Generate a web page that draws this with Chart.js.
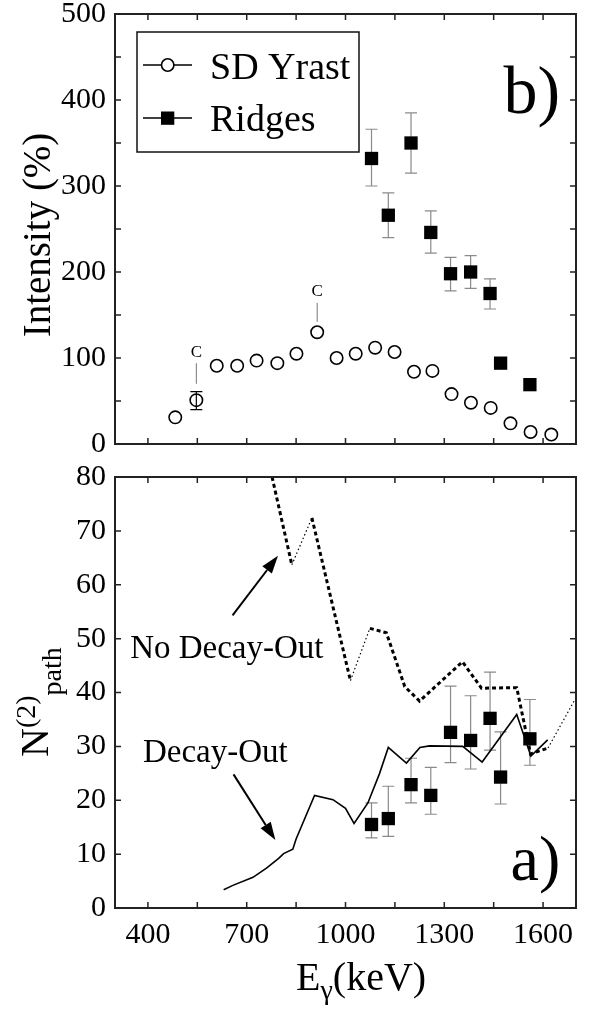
<!DOCTYPE html>
<html>
<head>
<meta charset="utf-8">
<script src="https://cdn.jsdelivr.net/npm/chart.js@4.4.1/dist/chart.umd.min.js"></script>
<style>
    html, body { margin: 0; padding: 0; background: #fff; }
    #wrap { position: relative; width: 590px; height: 1009px; }
    canvas { position: absolute; left: 0; }
    #cTop { top: 0; }
    #cBot { top: 465px; }
</style>
</head>
<body>
<div id="wrap">
    <canvas id="cTop" width="590" height="465"></canvas>
    <canvas id="cBot" width="590" height="544"></canvas>
</div>
<script>
// --- dados ---
// painel b) intensidades
const yrastE = [483, 547, 609, 671, 730, 793, 851, 914, 973, 1031, 1090, 1149, 1208, 1264, 1322, 1381, 1441, 1501, 1562, 1625];
const yrastI = [31, 51, 91, 91, 97, 94, 105, 130, 100, 105, 112, 107, 84, 85, 58, 48, 42, 24, 14, 11];
const yrastErrE = [547];
const yrastErrLo = [40];
const yrastErrHi = [61];

const ridgeE = [1079, 1130, 1199, 1259, 1319, 1380, 1439, 1471, 1560];
const ridgeI = [332, 266, 350, 246, 198, 200, 175, 94, 69];
const ridgeILo = [300, 240, 315, 222, 178, 181, 157, null, null];
const ridgeIHi = [366, 292, 385, 271, 217, 219, 192, null, null];

// marcas "C" (contaminadas)
const contamE = [547, 914];
const contamLineFrom = [70, 142];
const contamLineTo = [94, 164];
const contamTextAt = [101, 172];

// painel a) N(2)path
const ridgeN = [15.5, 16.6, 22.9, 20.9, 32.6, 31.1, 35.2, 24.3, 31.4];
const ridgeNLo = [13.0, 13.3, 19.5, 17.4, 27.0, 25.8, 29.3, 19.3, 26.5];
const ridgeNHi = [19.5, 22.6, 27.8, 26.1, 41.2, 39.4, 43.8, 32.7, 38.7];

const decayE = [630, 658, 719, 760, 797, 812, 840, 850, 906, 962, 1000, 1026, 1068, 1103, 1130, 1185, 1226, 1255, 1356, 1415, 1520, 1563, 1614];
const decayN = [3.4, 4.2, 5.7, 7.4, 9.2, 10.1, 10.9, 12.8, 20.9, 20.1, 18.5, 15.7, 19.5, 24.9, 29.8, 26.9, 29.8, 30.1, 30.0, 27.1, 35.9, 28.2, 31.2];

const noDecayE = [777, 837, 898, 1015, 1074, 1124, 1180, 1225, 1355, 1413, 1520, 1562, 1615, 1695];
const noDecayN = [80, 63.7, 72.4, 42.2, 51.9, 51.1, 41.1, 38.4, 45.7, 40.8, 40.9, 28.6, 29.7, 38.5];

// eixos
const xTicks = [400, 550, 700, 850, 1000, 1150, 1300, 1450, 1600];
const xTickLabels = [400, 700, 1000, 1300, 1600];
const topYTicks = [0, 50, 100, 150, 200, 250, 300, 350, 400, 450, 500];
const topYTickLabels = [0, 100, 200, 300, 400, 500];
const botYTicks = [0, 10, 20, 30, 40, 50, 60, 70, 80];

// anotações do painel a) (em unidades de dados)
const arrowNoDecay = [[657, 54.3], [795, 65.4]];
const arrowDecay = [[660, 24.8], [787, 12.6]];
const labelNoDecay = [346, 46.4];
const labelDecay = [385, 27.1];

const serif = '"Liberation Serif", "Times New Roman", serif';
const pts = (xs, ys) => xs.map((x, i) => ({ x: x, y: ys[i] }));

// moldura com marcas para dentro, nos quatro lados
const framePlugin = {
    id: 'frame',
    afterDraw(chart) {
        const { ctx, chartArea: a, scales } = chart;
        const tl = 6;
        ctx.save();
        ctx.strokeStyle = '#222';
        ctx.lineWidth = 1.5;
        ctx.beginPath();
        scales.x.ticks.forEach(t => {
            const px = scales.x.getPixelForValue(t.value);
            ctx.moveTo(px, a.bottom); ctx.lineTo(px, a.bottom - tl);
            ctx.moveTo(px, a.top); ctx.lineTo(px, a.top + tl);
        });
        scales.y.ticks.forEach(t => {
            const py = scales.y.getPixelForValue(t.value);
            ctx.moveTo(a.left, py); ctx.lineTo(a.left + tl, py);
            ctx.moveTo(a.right, py); ctx.lineTo(a.right - tl, py);
        });
        ctx.stroke();
        ctx.lineWidth = 2;
        ctx.strokeRect(a.left, a.top, a.right - a.left, a.bottom - a.top);
        ctx.restore();
    }
};

function drawErrorBars(chart, xs, lo, hi, color, cap) {
    const { ctx, scales } = chart;
    ctx.save();
    ctx.strokeStyle = color;
    ctx.lineWidth = 1.2;
    ctx.beginPath();
    xs.forEach((x, i) => {
        if (lo[i] == null) return;
        const px = scales.x.getPixelForValue(x);
        const p1 = scales.y.getPixelForValue(lo[i]);
        const p2 = scales.y.getPixelForValue(hi[i]);
        ctx.moveTo(px, p1); ctx.lineTo(px, p2);
        ctx.moveTo(px - cap, p1); ctx.lineTo(px + cap, p1);
        ctx.moveTo(px - cap, p2); ctx.lineTo(px + cap, p2);
    });
    ctx.stroke();
    ctx.restore();
}

function xAxis(showLabels, height) {
    return {
        type: 'linear', min: 300, max: 1700,
        afterBuildTicks: s => { s.ticks = xTicks.map(v => ({ value: v })); },
        afterFit: s => { s.height = height; s.paddingLeft = 0; s.paddingRight = 0; },
        grid: { display: false, drawTicks: false },
        border: { display: false },
        ticks: {
            display: showLabels,
            padding: 9,
            color: '#000',
            font: { family: serif, size: 30 },
            maxRotation: 0,
            autoSkip: false,
            callback: v => xTickLabels.includes(v) ? String(v) : ''
        }
    };
}

function yAxis(min, max, tickVals, labelVals) {
    return {
        type: 'linear', min: min, max: max,
        afterBuildTicks: s => { s.ticks = tickVals.map(v => ({ value: v })); },
        afterFit: s => { s.width = 115; s.paddingTop = 0; s.paddingBottom = 0; },
        grid: { display: false, drawTicks: false },
        border: { display: false },
        ticks: {
            padding: 9,
            color: '#000',
            font: { family: serif, size: 30 },
            autoSkip: false,
            callback: v => labelVals.includes(v) ? String(v) : ''
        }
    };
}

// --- painel superior b) ---
const topChart = new Chart(document.getElementById('cTop'), {
    type: 'scatter',
    data: {
        datasets: [
            {
                label: 'Ridges',
                data: pts(ridgeE, ridgeI),
                pointStyle: 'rect',
                pointRadius: 9.4,
                backgroundColor: '#000',
                borderColor: '#000',
                borderWidth: 0
            },
            {
                label: 'SD Yrast',
                data: pts(yrastE, yrastI),
                pointStyle: 'circle',
                pointRadius: 6.2,
                backgroundColor: 'rgba(255,255,255,0)',
                borderColor: '#000',
                borderWidth: 1.6
            }
        ]
    },
    options: {
        responsive: false,
        animation: false,
        devicePixelRatio: 1,
        layout: { padding: { top: 14, right: 14, left: 0, bottom: 0 } },
        scales: {
            x: xAxis(false, 21),
            y: yAxis(0, 500, topYTicks, topYTickLabels)
        },
        plugins: { legend: { display: false }, tooltip: { enabled: false } }
    },
    plugins: [framePlugin, {
        id: 'topExtras',
        beforeDatasetsDraw(chart) {
            drawErrorBars(chart, ridgeE, ridgeILo, ridgeIHi, '#8a8a8a', 6);
            drawErrorBars(chart, yrastErrE, yrastErrLo, yrastErrHi, '#000', 6);
        },
        afterDraw(chart) {
            const { ctx, scales } = chart;
            ctx.save();
            // marcas C
            ctx.strokeStyle = '#777';
            ctx.lineWidth = 1;
            ctx.fillStyle = '#000';
            ctx.font = '17px ' + serif;
            ctx.textAlign = 'center';
            contamE.forEach((e, i) => {
                const px = scales.x.getPixelForValue(e);
                ctx.beginPath();
                ctx.moveTo(px, scales.y.getPixelForValue(contamLineFrom[i]));
                ctx.lineTo(px, scales.y.getPixelForValue(contamLineTo[i]));
                ctx.stroke();
                ctx.fillText('C', px, scales.y.getPixelForValue(contamTextAt[i]));
            });
            // b)
            ctx.textAlign = 'left';
            ctx.font = '68px ' + serif;
            ctx.fillText('b)', scales.x.getPixelForValue(1480), scales.y.getPixelForValue(385));
            // título do eixo y
            ctx.save();
            ctx.translate(50, 235);
            ctx.rotate(-Math.PI / 2);
            ctx.textAlign = 'center';
            ctx.font = '39px ' + serif;
            ctx.fillText('Intensity (%)', 0, 0);
            ctx.restore();
            // legenda
            ctx.strokeStyle = '#111';
            ctx.lineWidth = 1.5;
            ctx.strokeRect(137, 32, 222, 120);
            ctx.lineWidth = 1.5;
            ctx.strokeStyle = '#000';
            ctx.beginPath();
            ctx.moveTo(143, 65); ctx.lineTo(192, 65);
            ctx.moveTo(143, 118); ctx.lineTo(192, 118);
            ctx.stroke();
            ctx.fillStyle = '#fff';
            ctx.beginPath();
            ctx.arc(167.7, 65, 6.2, 0, Math.PI * 2);
            ctx.fill();
            ctx.lineWidth = 1.6;
            ctx.stroke();
            ctx.fillStyle = '#000';
            ctx.fillRect(161, 111.5, 13.3, 13.3);
            ctx.font = '38px ' + serif;
            ctx.fillText('SD Yrast', 210, 79);
            ctx.fillText('Ridges', 210, 131);
            ctx.restore();
        }
    }]
});

// --- painel inferior a) ---
const steep = c => (c.p1.parsed.y - c.p0.parsed.y) / (c.p1.parsed.x - c.p0.parsed.x) > 0.08;

function drawArrow(ctx, x1, y1, x2, y2) {
    const ang = Math.atan2(y2 - y1, x2 - x1);
    const len = 18, half = 6;
    const bx = x2 - len * Math.cos(ang), by = y2 - len * Math.sin(ang);
    ctx.beginPath();
    ctx.moveTo(x1, y1); ctx.lineTo(bx, by);
    ctx.stroke();
    ctx.beginPath();
    ctx.moveTo(x2, y2);
    ctx.lineTo(bx + half * Math.sin(ang), by - half * Math.cos(ang));
    ctx.lineTo(bx - half * Math.sin(ang), by + half * Math.cos(ang));
    ctx.closePath();
    ctx.fill();
}

const botChart = new Chart(document.getElementById('cBot'), {
    type: 'scatter',
    data: {
        datasets: [
            {
                label: 'Ridges',
                data: pts(ridgeE, ridgeN),
                pointStyle: 'rect',
                pointRadius: 9.4,
                backgroundColor: '#000',
                borderColor: '#000',
                borderWidth: 0
            },
            {
                label: 'Decay-Out',
                data: pts(decayE, decayN),
                showLine: true,
                pointRadius: 0,
                borderColor: '#000',
                borderWidth: 1.6,
                tension: 0
            },
            {
                label: 'No Decay-Out',
                data: pts(noDecayE, noDecayN),
                showLine: true,
                pointRadius: 0,
                borderColor: '#000',
                borderWidth: 3,
                borderDash: [4, 3],
                tension: 0,
                segment: {
                    borderWidth: c => steep(c) ? 1.2 : 3,
                    borderDash: c => steep(c) ? [1.5, 2.5] : [4, 3]
                }
            }
        ]
    },
    options: {
        responsive: false,
        animation: false,
        devicePixelRatio: 1,
        layout: { padding: { top: 12, right: 14, left: 0, bottom: 0 } },
        scales: {
            x: xAxis(true, 101),
            y: yAxis(0, 80, botYTicks, botYTicks)
        },
        plugins: { legend: { display: false }, tooltip: { enabled: false } }
    },
    plugins: [framePlugin, {
        id: 'botExtras',
        beforeDatasetsDraw(chart) {
            drawErrorBars(chart, ridgeE, ridgeNLo, ridgeNHi, '#8a8a8a', 6);
        },
        afterDraw(chart) {
            const { ctx, scales } = chart;
            const X = v => scales.x.getPixelForValue(v);
            const Y = v => scales.y.getPixelForValue(v);
            ctx.save();
            ctx.fillStyle = '#000';
            ctx.strokeStyle = '#000';
            ctx.lineWidth = 2;
            drawArrow(ctx, X(arrowNoDecay[0][0]), Y(arrowNoDecay[0][1]), X(arrowNoDecay[1][0]), Y(arrowNoDecay[1][1]));
            drawArrow(ctx, X(arrowDecay[0][0]), Y(arrowDecay[0][1]), X(arrowDecay[1][0]), Y(arrowDecay[1][1]));
            ctx.font = '33px ' + serif;
            ctx.textAlign = 'left';
            ctx.fillText('No Decay-Out', X(labelNoDecay[0]), Y(labelNoDecay[1]));
            ctx.fillText('Decay-Out', X(labelDecay[0]), Y(labelDecay[1]));
            ctx.font = '64px ' + serif;
            ctx.fillText('a)', X(1501), Y(5.2));

            // título do eixo y: N(2)path
            ctx.save();
            ctx.translate(48, 292);
            ctx.rotate(-Math.PI / 2);
            ctx.textAlign = 'left';
            ctx.font = '40px ' + serif;
            ctx.fillText('N', 0, 0);
            let off = ctx.measureText('N').width;
            ctx.font = '28px ' + serif;
            ctx.fillText('(2)', off, -13);
            off += ctx.measureText('(2)').width;
            ctx.font = '28px ' + serif;
            ctx.fillText('path', off, 13);
            ctx.restore();

            // título do eixo x: Eγ(keV)
            ctx.font = '40px ' + serif;
            ctx.fillText('E', 296, 525);
            let xo = 296 + ctx.measureText('E').width;
            ctx.font = '28px ' + serif;
            ctx.fillText('γ', xo, 534);
            xo += ctx.measureText('γ').width;
            ctx.font = '40px ' + serif;
            ctx.fillText('(keV)', xo, 525);
            ctx.restore();
        }
    }]
});
</script>
</body>
</html>
